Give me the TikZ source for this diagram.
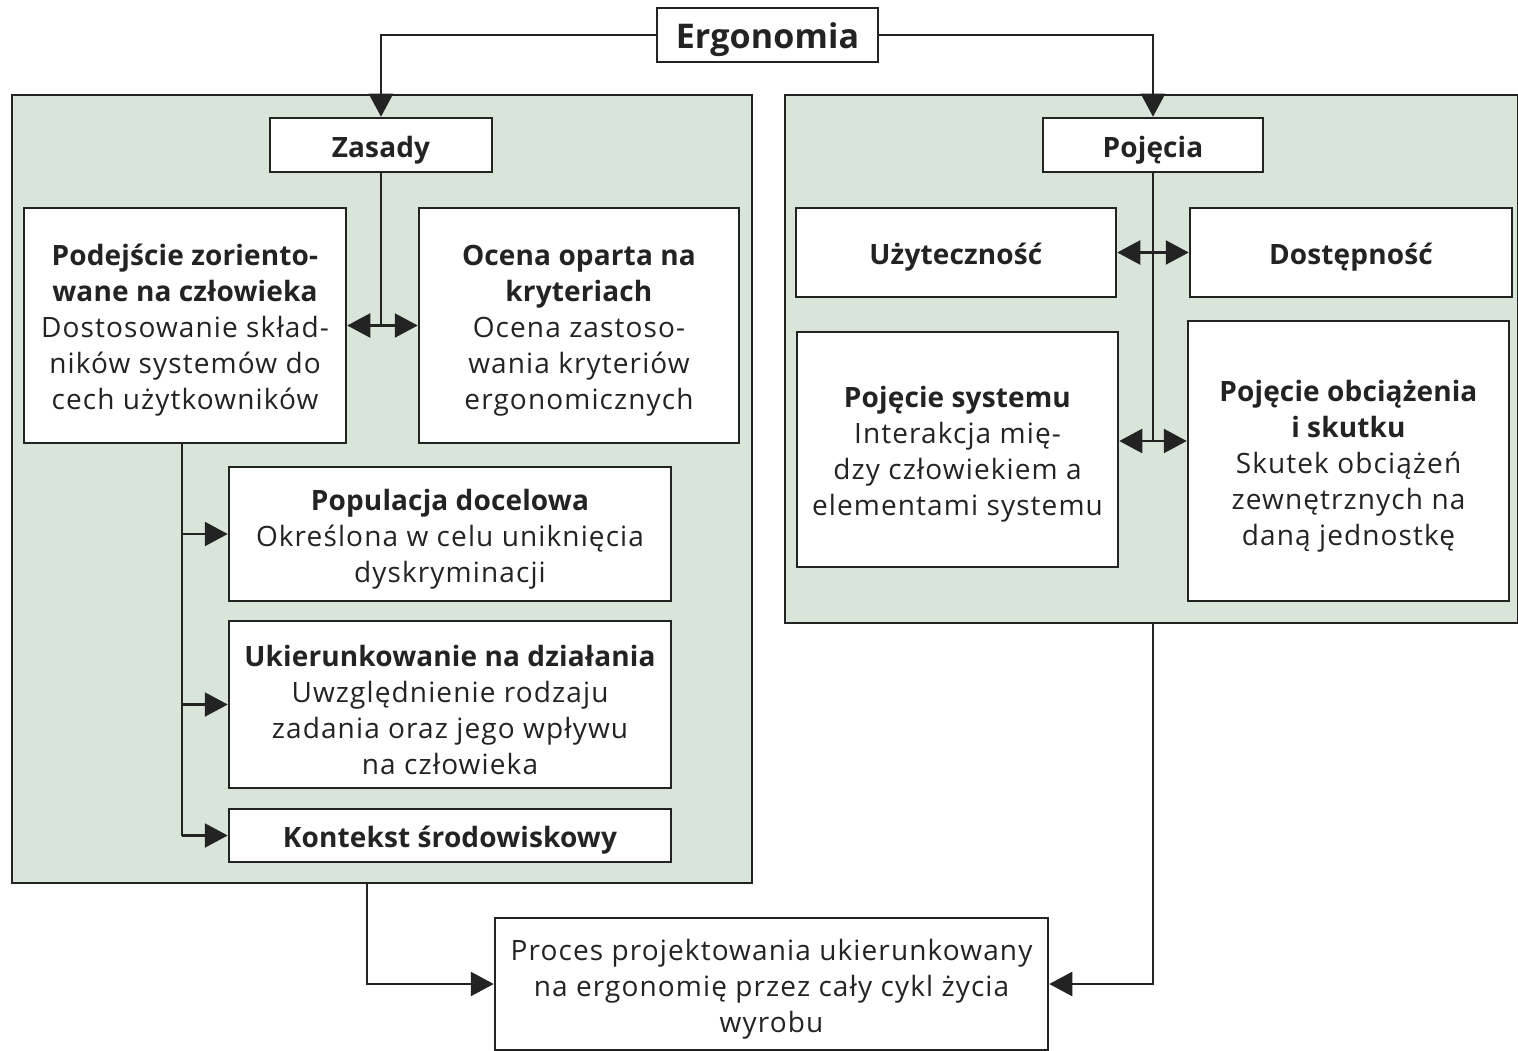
\documentclass[tikz,border=0pt]{standalone}
\usepackage{fontspec}
\setmainfont{Open Sans}[LetterSpace=4, BoldFeatures={LetterSpace=0.5}]
\usetikzlibrary{arrows.meta}
\definecolor{panel}{RGB}{218,229,218}
\definecolor{ink}{RGB}{35,35,35}
\tikzset{
  panelbox/.style={draw=ink, fill=panel, line width=2.5pt, inner sep=0pt},
  whitebox/.style={draw=ink, fill=white, line width=2.5pt, inner sep=0pt},
  txt/.style={align=center, inner sep=0pt, font=\fontsize{28}{36}\selectfont, text=ink},
  conn/.style={draw=ink, line width=2.5pt},
  arr/.style={conn, -{Triangle[length=23pt,width=24pt]}},
  darr/.style={conn, {Triangle[length=23pt,width=24pt]}-{Triangle[length=23pt,width=24pt]}},
}
% \bx{name}{x,y}{width}{height}{text}
\newcommand\bx[5]{%
  \node[whitebox, minimum width=#3pt, minimum height=#4pt] (#1) at (#2) {};
  \node[txt] (#1-t) at ([yshift=-5pt]#1.center) {#5};
}
\begin{document}
\begin{tikzpicture}[x=1pt,y=-1pt]
\useasboundingbox (0,0) rectangle (1518,1051);
% panels
\node[panelbox, minimum width=740pt, minimum height=788pt] (lp) at (382,489) {};
\node[panelbox, minimum width=733pt, minimum height=528pt] (rp) at (1151.5,359) {};
% top
\bx{ergo}{767.5,35}{221}{54}{\fontsize{34}{40}\selectfont\bfseries Ergonomia}
\bx{zasady}{381,145}{222}{54}{\bfseries Zasady}
\bx{pojecia}{1153,145}{220}{54}{\bfseries Pojęcia}
% left boxes
\bx{podej}{185,325.5}{322}{235}{\textbf{Podejście zoriento-}\\\textbf{wane na człowieka}\\Dostosowanie skład-\\ników systemów do\\cech użytkowników}
\bx{ocena}{579,325.5}{320}{235}{\textbf{Ocena oparta na}\\\textbf{kryteriach}\\Ocena zastoso-\\wania kryteriów\\ergonomicznych}
\bx{popul}{450,534}{442}{134}{\textbf{Populacja docelowa}\\Określona w celu uniknięcia\\dyskryminacji}
\bx{ukier}{450,704.5}{442}{167}{\textbf{Ukierunkowanie na działania}\\Uwzględnienie rodzaju\\zadania oraz jego wpływu\\na człowieka}
\bx{kontekst}{450,835.5}{442}{53}{\textbf{Kontekst środowiskowy}}
% right boxes
\bx{uzyt}{956,252.5}{320}{89}{\textbf{Użyteczność}}
\bx{dost}{1351,252.5}{322}{89}{\textbf{Dostępność}}
\bx{psys}{957.5,449.5}{321}{235}{\textbf{Pojęcie systemu}\\Interakcja mię-\\dzy człowiekiem a\\elementami systemu}
\bx{pobc}{1348.5,461}{321}{280}{\textbf{Pojęcie obciążenia}\\\textbf{i skutku}\\Skutek obciążeń\\zewnętrznych na\\daną jednostkę}
% bottom
\bx{proces}{771.5,984}{553}{132}{Proces projektowania ukierunkowany\\na ergonomię przez cały cykl życia\\wyrobu}
% connectors
\draw[arr] (ergo.west) -| (zasady.north);
\draw[arr] (ergo.east) -| (pojecia.north);
\draw[conn] (zasady.south) -- (zasady.south |- podej.east);
\draw[darr] (podej.east) -- (ocena.west);
\coordinate (lj) at ([xshift=-3pt]podej.south);
\draw[conn] (lj) -- (lj |- kontekst.west);
\draw[arr] (lj |- popul.west) -- (popul.west);
\draw[arr] (lj |- ukier.west) -- (ukier.west);
\draw[arr] (lj |- kontekst.west) -- (kontekst.west);
\coordinate (rj) at (1153,441);
\draw[conn] (pojecia.south) -- (rj);
\draw[darr] (uzyt.east) -- (dost.west);
\draw[darr] (psys.east |- rj) -- (pobc.west |- rj);
\coordinate (lout) at (367,883);
\draw[arr] (lout) |- (proces.west);
\draw[arr] (pojecia.south |- rp.south) |- (proces.east);
\end{tikzpicture}
\end{document}
